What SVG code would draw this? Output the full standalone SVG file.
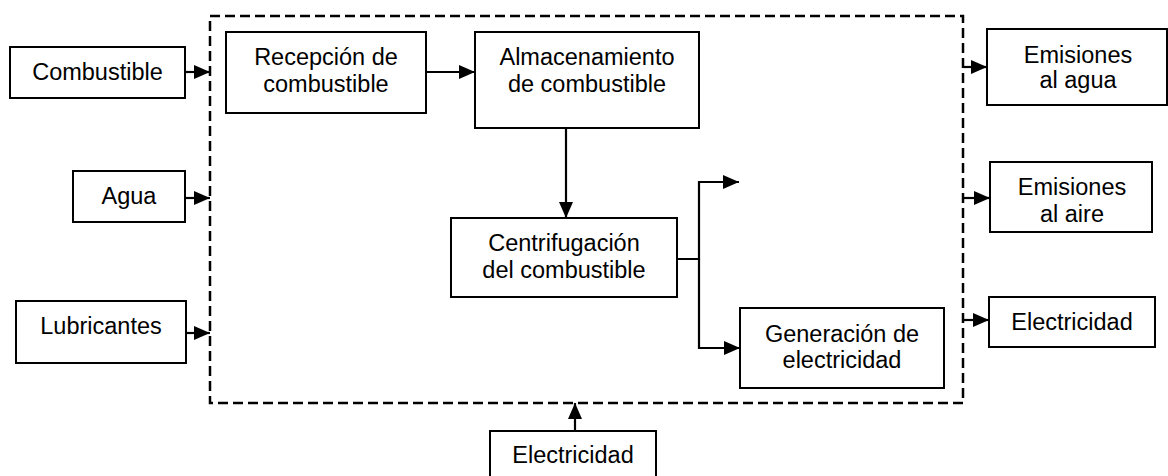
<svg xmlns="http://www.w3.org/2000/svg" width="1168" height="476" viewBox="0 0 1168 476">
<style>
.box{fill:#fff;stroke:#000;stroke-width:2}
.t{font-family:"Liberation Sans",Arial,sans-serif;font-size:23.5px;fill:#000;text-anchor:middle}
.c{fill:none;stroke:#000;stroke-width:2.2}
.arr{marker-end:url(#ah)}
.bound{fill:none;stroke:#000;stroke-width:2.5;stroke-dasharray:10 5}
</style>
<defs>
<marker id="ah" viewBox="0 0 16 14" markerWidth="16" markerHeight="14" refX="16" refY="7" orient="auto" markerUnits="userSpaceOnUse">
<path d="M0,0 L16,7 L0,14 Z" fill="#000"/>
</marker>
</defs>
<rect id="boundary" class="bound" x="210" y="16" width="753" height="387"/>
<g id="n-combustible"><rect class="box" x="10" y="47" width="175" height="51"/><text class="t" x="97.5" y="80">Combustible</text></g>
<g id="n-agua"><rect class="box" x="73" y="171" width="112" height="51"/><text class="t" x="129" y="203.5">Agua</text></g>
<g id="n-lubricantes"><rect class="box" x="16" y="301" width="170" height="62"/><text class="t" x="101" y="334">Lubricantes</text></g>
<g id="n-recepcion"><rect class="box" x="226" y="32" width="200" height="81"/><text class="t" x="326" y="65">Recepción de</text><text class="t" x="326" y="92">combustible</text></g>
<g id="n-almacenamiento"><rect class="box" x="475" y="32" width="224" height="96"/><text class="t" x="587" y="65">Almacenamiento</text><text class="t" x="587" y="92">de combustible</text></g>
<g id="n-centrifugacion"><rect class="box" x="451" y="218" width="226" height="79"/><text class="t" x="564" y="251">Centrifugación</text><text class="t" x="564" y="278">del combustible</text></g>
<g id="n-generacion"><rect class="box" x="740" y="308" width="204" height="80"/><text class="t" x="842" y="342">Generación de</text><text class="t" x="842" y="368">electricidad</text></g>
<g id="n-emisiones-agua"><rect class="box" x="987" y="29" width="180" height="76"/><text class="t" x="1078" y="63">Emisiones</text><text class="t" x="1078" y="88">al agua</text></g>
<g id="n-emisiones-aire"><rect class="box" x="990" y="162" width="162" height="70"/><text class="t" x="1072" y="195">Emisiones</text><text class="t" x="1072" y="222">al aire</text></g>
<g id="n-electricidad-out"><rect class="box" x="989" y="297" width="166" height="50"/><text class="t" x="1072" y="330">Electricidad</text></g>
<g id="n-electricidad-in"><rect class="box" x="490" y="431" width="166" height="60"/><text class="t" x="573" y="463">Electricidad</text></g>
<g id="connectors">
<path class="c arr" d="M185,72 H210"/>
<path class="c arr" d="M185,198 H210"/>
<path class="c arr" d="M186,333 H210"/>
<path class="c arr" d="M426,72 H475"/>
<path class="c arr" d="M566,128 V218"/>
<path class="c arr" d="M677,259 H699 V182 H739"/>
<path class="c arr" d="M699,259 V348 H740"/>
<path class="c arr" d="M963,67 H987"/>
<path class="c arr" d="M963,198 H990"/>
<path class="c arr" d="M963,320 H989"/>
<path class="c arr" d="M575,431 V403"/>
</g>
</svg>
